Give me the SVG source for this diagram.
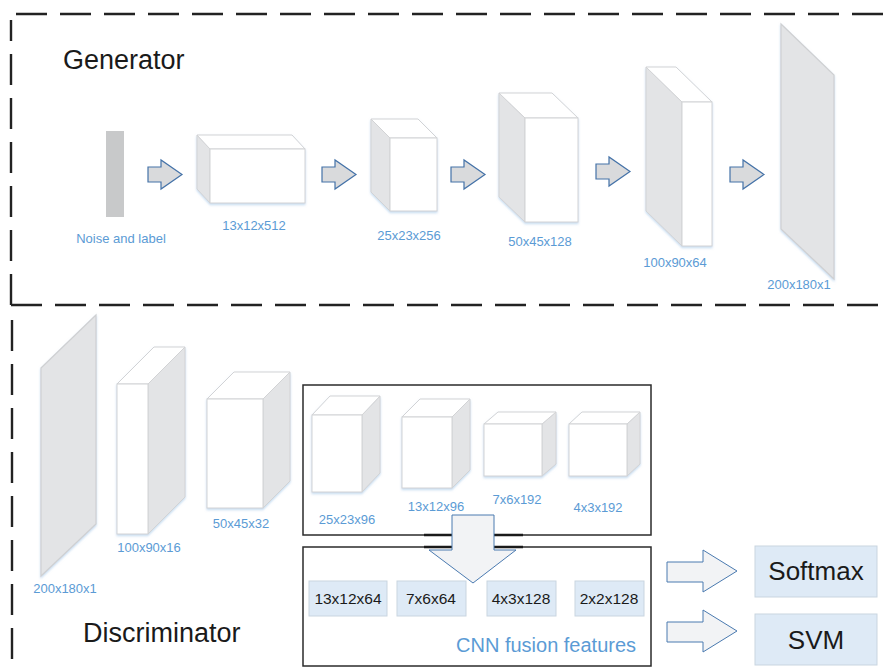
<svg xmlns="http://www.w3.org/2000/svg" width="889" height="672" viewBox="0 0 889 672">
  <defs>
    <filter id="glow" x="-20%" y="-20%" width="140%" height="140%">
      <feDropShadow dx="0" dy="1.5" stdDeviation="1" flood-color="#9dc3e6" flood-opacity="0.6"/>
    </filter>
  </defs>
  <style>
    .dash { fill: none; stroke: #222; stroke-width: 2.4; stroke-dasharray: 31 13; }
    .side { fill: #e3e4e6; stroke: #d2d3d5; stroke-width: 1; }
    .face { fill: #ffffff; stroke: #d2d3d5; stroke-width: 1; }
    .plane { fill: #e3e4e6; stroke: #cfd0d2; stroke-width: 1.2; }
    .lbl { font-family: "Liberation Sans", Arial, sans-serif; font-size: 13px; fill: #5b9bd5; text-anchor: middle; }
    .title { font-family: "Liberation Sans", Arial, sans-serif; font-size: 27px; fill: #1a1a1a; }
    .arrow { fill: #d9dadc; stroke: #4472a8; stroke-width: 1.2; }
    .bigarrow { fill: #f2f3f5; stroke: #4a7ab0; stroke-width: 1; }
    .frame { fill: none; stroke: #2b2b2b; stroke-width: 1.5; }
    .feat { fill: #deeaf6; stroke: #c9d5e0; stroke-width: 1; }
    .ftxt { font-family: "Liberation Sans", Arial, sans-serif; font-size: 15.5px; fill: #1a1a1a; text-anchor: middle; }
    .out { fill: #deeaf6; stroke: #c9d5e0; stroke-width: 1; }
    .otxt { font-family: "Liberation Sans", Arial, sans-serif; font-size: 26px; fill: #1a1a1a; text-anchor: middle; }
  </style>

  <!-- section borders -->
  <g id="borders">
    <path class="dash" d="M16,14 H889"/>
    <path class="dash" d="M11,305 V20"/>
    <path class="dash" d="M11,305 H889"/>
    <path class="dash" d="M12,320 V672"/>
  </g>

  <text class="title" x="63" y="69">Generator</text>
  <text class="title" x="83" y="642">Discriminator</text>

  <!-- generator layers -->
  <g id="g-noise">
    <rect x="106" y="131" width="18" height="86" fill="#c8c9ca"/>
    <text class="lbl" x="121" y="243">Noise and label</text>
  </g>
  <g id="g-13x12x512" filter="url(#glow)">
    <polygon class="side" points="210,149 197,135 197,189 210,203"/>
    <polygon class="face" points="210,149 197,135 292,135 305,149"/>
    <rect class="face" x="210" y="149" width="95" height="54"/>
  </g>
  <text class="lbl" x="254" y="230">13x12x512</text>

  <g id="g-25x23x256" filter="url(#glow)">
    <polygon class="side" points="390,138 371,119 371,192 390,211"/>
    <polygon class="face" points="390,138 371,119 418,119 437,138"/>
    <rect class="face" x="390" y="138" width="47" height="73"/>
  </g>
  <text class="lbl" x="409" y="240">25x23x256</text>

  <g id="g-50x45x128" filter="url(#glow)">
    <polygon class="side" points="525,118 499,93 499,197 525,222"/>
    <polygon class="face" points="525,118 499,93 552,93 578,118"/>
    <rect class="face" x="525" y="118" width="53" height="104"/>
  </g>
  <text class="lbl" x="540" y="246">50x45x128</text>

  <g id="g-100x90x64" filter="url(#glow)">
    <polygon class="side" points="682,102 646,67 646,211 682,246"/>
    <polygon class="face" points="682,102 646,67 676,67 712,102"/>
    <rect class="face" x="682" y="102" width="30" height="144"/>
  </g>
  <text class="lbl" x="675" y="267">100x90x64</text>

  <g id="g-200x180x1" filter="url(#glow)">
    <polygon class="plane" points="781,24 834,75 834,279 781,229"/>
  </g>
  <text class="lbl" x="799" y="289">200x180x1</text>

  <!-- discriminator layers -->
  <g id="d-200x180x1" filter="url(#glow)">
    <polygon class="plane" points="41,368 96,315 96,524 41,576"/>
  </g>
  <text class="lbl" x="65" y="593">200x180x1</text>

  <g id="d-100x90x16" filter="url(#glow)">
    <polygon class="side" points="148,384 185,347 185,497 148,534"/>
    <polygon class="face" points="117,384 154,347 185,347 148,384"/>
    <rect class="face" x="117" y="384" width="31" height="150"/>
  </g>
  <text class="lbl" x="149" y="552">100x90x16</text>

  <g id="d-50x45x32" filter="url(#glow)">
    <polygon class="side" points="263,399 290,372 290,481 263,508"/>
    <polygon class="face" points="207,399 234,372 290,372 263,399"/>
    <rect class="face" x="207" y="399" width="56" height="109"/>
  </g>
  <text class="lbl" x="241" y="528">50x45x32</text>

  <!-- convolution stack -->
  <g id="conv-stack">
    <rect class="frame" x="303" y="385" width="348" height="150"/>
    <g id="d-25x23x96" filter="url(#glow)">
      <polygon class="side" points="362,415 380,396 380,473 362,492"/>
      <polygon class="face" points="312,415 330,396 380,396 362,415"/>
      <rect class="face" x="312" y="415" width="50" height="77"/>
    </g>
    <text class="lbl" x="347" y="524">25x23x96</text>

    <g id="d-13x12x96" filter="url(#glow)">
      <polygon class="side" points="452,417 470,399 470,470 452,488"/>
      <polygon class="face" points="402,417 420,399 470,399 452,417"/>
      <rect class="face" x="402" y="417" width="50" height="71"/>
    </g>
    <text class="lbl" x="436" y="511">13x12x96</text>

    <g id="d-7x6x192" filter="url(#glow)">
      <polygon class="side" points="542,424 556,412 556,464 542,476"/>
      <polygon class="face" points="484,424 498,412 556,412 542,424"/>
      <rect class="face" x="484" y="424" width="58" height="52"/>
    </g>
    <text class="lbl" x="517" y="504">7x6x192</text>

    <g id="d-4x3x192" filter="url(#glow)">
      <polygon class="side" points="627,424 640,412 640,464 627,476"/>
      <polygon class="face" points="569,424 582,412 640,412 627,424"/>
      <rect class="face" x="569" y="424" width="58" height="52"/>
    </g>
    <text class="lbl" x="598" y="512">4x3x192</text>
  </g>

  <!-- fused feature block -->
  <g id="fusion">
    <rect class="frame" x="303" y="547" width="348" height="119"/>
    <rect class="feat" x="309" y="581" width="78" height="35"/>
    <text class="ftxt" x="348" y="604">13x12x64</text>
    <rect class="feat" x="397" y="581" width="69" height="35"/>
    <text class="ftxt" x="431" y="604">7x6x64</text>
    <rect class="feat" x="487" y="581" width="69" height="35"/>
    <text class="ftxt" x="521" y="604">4x3x128</text>
    <rect class="feat" x="575" y="581" width="69" height="35"/>
    <text class="ftxt" x="609" y="604">2x2x128</text>
    <text x="456" y="652" font-family="Liberation Sans, Arial, sans-serif" font-size="20" fill="#5b9bd5">CNN fusion features</text>
  </g>

  <!-- classifiers -->
  <g id="softmax">
    <rect class="out" x="755" y="546" width="122" height="51"/>
    <text class="otxt" x="816" y="580">Softmax</text>
  </g>
  <g id="svm">
    <rect class="out" x="755" y="614" width="122" height="51"/>
    <text class="otxt" x="816" y="649">SVM</text>
  </g>

  <!-- connectors -->
  <g id="connectors">
    <path class="arrow" d="M148,167 H161 V160 L182,174.5 L161,189 V182 H148 Z"/>
    <path class="arrow" d="M322,167 H335 V160 L356,174.5 L335,189 V182 H322 Z"/>
    <path class="arrow" d="M451,167 H464 V160 L485,174.5 L464,189 V182 H451 Z"/>
    <path class="arrow" d="M596,164 H609 V157 L630,171.5 L609,186 V179 H596 Z"/>
    <path class="arrow" d="M730,167 H743 V160 L764,174.5 L743,189 V182 H730 Z"/>

    <line x1="424" y1="535" x2="523" y2="535" stroke="#1a1a1a" stroke-width="2.6"/>
    <line x1="424" y1="547" x2="523" y2="547" stroke="#1a1a1a" stroke-width="2.6"/>
    <path class="bigarrow" d="M452,515 H494 V550 H516 L473,583 L429,550 H452 Z"/>

    <path class="bigarrow" d="M667,562 H703 V550 L737,571 L703,592 V582 H667 Z"/>
    <path class="bigarrow" d="M667,622 H703 V610 L737,631 L703,652 V642 H667 Z"/>
  </g>
</svg>
